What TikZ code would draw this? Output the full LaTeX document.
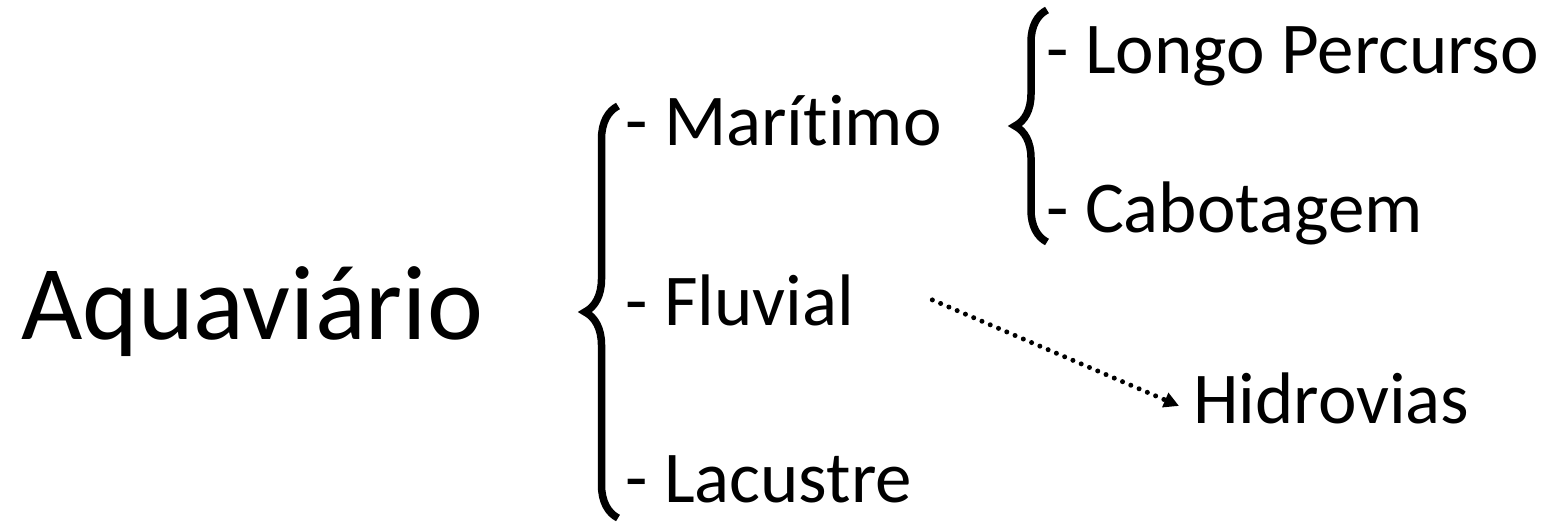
\documentclass[tikz,border=0pt]{standalone}
\usepackage{fontspec}
\setmainfont{Carlito}[Ligatures=CommonOff]
\usetikzlibrary{decorations.pathreplacing,arrows.meta}

\tikzset{
  item/.style={anchor=base west, inner sep=0pt, font=\fontsize{73}{80}\selectfont},
  title/.style={anchor=base west, inner sep=0pt, font=\fontsize{106}{112}\selectfont},
  curly/.style={decorate, decoration={brace, amplitude=#1}, line width=7.5pt},
  dotarrow/.style={line width=5pt, line cap=round, dash pattern=on 0pt off 9pt,
                   -{Triangle[length=15pt,width=15pt]}}
}

\begin{document}
\begin{tikzpicture}[x=1pt,y=-1pt]
\useasboundingbox (0,0) rectangle (1557,524);

%% main term
\node[title] (aqu) at (21,339) {Aquaviário};

%% first level
\node[item] (mar) at (625,146) {- Marítimo};
\node[item] (flu) at (625,325) {- Fluvial};
\node[item] (lac) at (625,502) {- Lacustre};

%% second level
\node[item] (lon) at (1046,74)  {- Longo Percurso};
\node[item] (cab) at (1046,232) {- Cabotagem};
\node[item] (hid) at (1193,423) {Hidrovias};

%% braces
\draw[curly=33pt] (618,518) -- (618,106);   %% aqu
\draw[curly=32pt] (1047,242) -- (1047,10);  %% mar

%% arrow
\draw[dotarrow] ([xshift=78pt]flu.east) -- ([xshift=-14pt,yshift=-8pt]hid.west);
\end{tikzpicture}
\end{document}
